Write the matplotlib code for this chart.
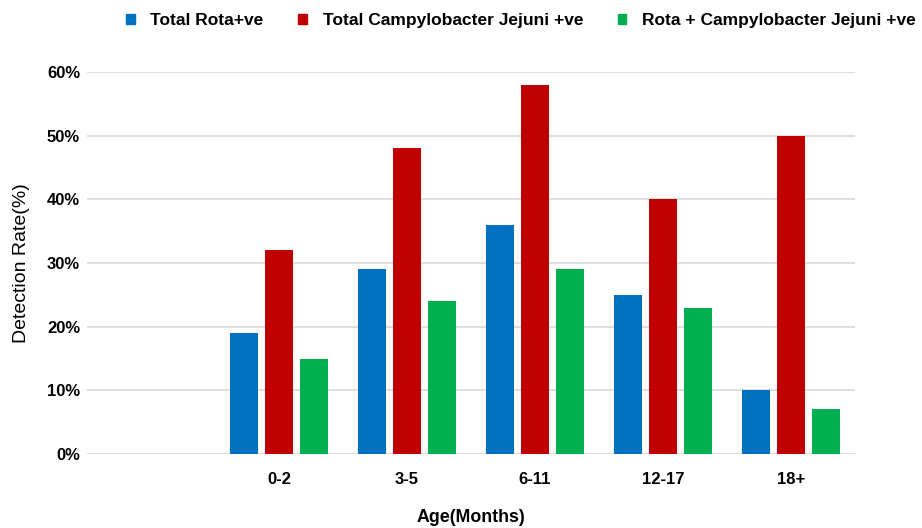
import matplotlib.pyplot as plt
import numpy as np
from matplotlib.patches import Patch

plt.rcParams['font.family'] = ['Liberation Sans', 'DejaVu Sans']

# Age groups (first slot is empty in the original chart)
age_groups = ["", "0-2", "3-5", "6-11", "12-17", "18+"]
rota = [np.nan, 19, 29, 36, 25, 10]
campy = [np.nan, 32, 48, 58, 40, 50]
both = [np.nan, 15, 24, 29, 23, 7]

series_names = ["Total Rota+ve", "Total Campylobacter Jejuni +ve", "Rota + Campylobacter Jejuni +ve"]
colors = ["#0070C0", "#C00000", "#00B050"]

fig = plt.figure(figsize=(9.22, 5.28), dpi=100)
ax = fig.add_axes([0.0944, 0.140, 0.833, 0.724])

x = np.arange(len(age_groups))
width = 0.22
step = 0.273
for k, (vals, c) in enumerate(zip([rota, campy, both], colors)):
    ax.bar(x + (k - 1) * step, vals, width, color=c, zorder=3)

ax.set_xlim(-0.5, len(age_groups) - 0.5)
ax.set_ylim(0, 60)
ax.set_yticks(range(0, 61, 10))
ax.set_yticklabels([f"{v}%" for v in range(0, 61, 10)], fontsize=12, fontweight="bold")
ax.set_xticks(x)
ax.set_xticklabels(age_groups, fontsize=12, fontweight="bold")
ax.tick_params(axis="x", length=0, pad=13)
ax.tick_params(axis="y", length=0, pad=5)
ax.grid(axis="y", color="#d9d9d9", linewidth=1.2, zorder=0)
for s in ax.spines.values():
    s.set_visible(False)

ax.set_xlabel("Age(Months)", fontsize=12.8, fontweight="bold", labelpad=16)
ax.set_ylabel("Detection Rate(%)", fontsize=14, labelpad=12)

handles = [Patch(color=c) for c in colors]
fig.legend(handles, series_names, loc="upper center", bbox_to_anchor=(0.565, 1.005),
           ncol=3, frameon=False, prop={"weight": "bold", "size": 12.5},
           handlelength=0.5, handleheight=0.5, handletextpad=0.9, columnspacing=2.0)

fig.savefig("out.png", dpi=100)
